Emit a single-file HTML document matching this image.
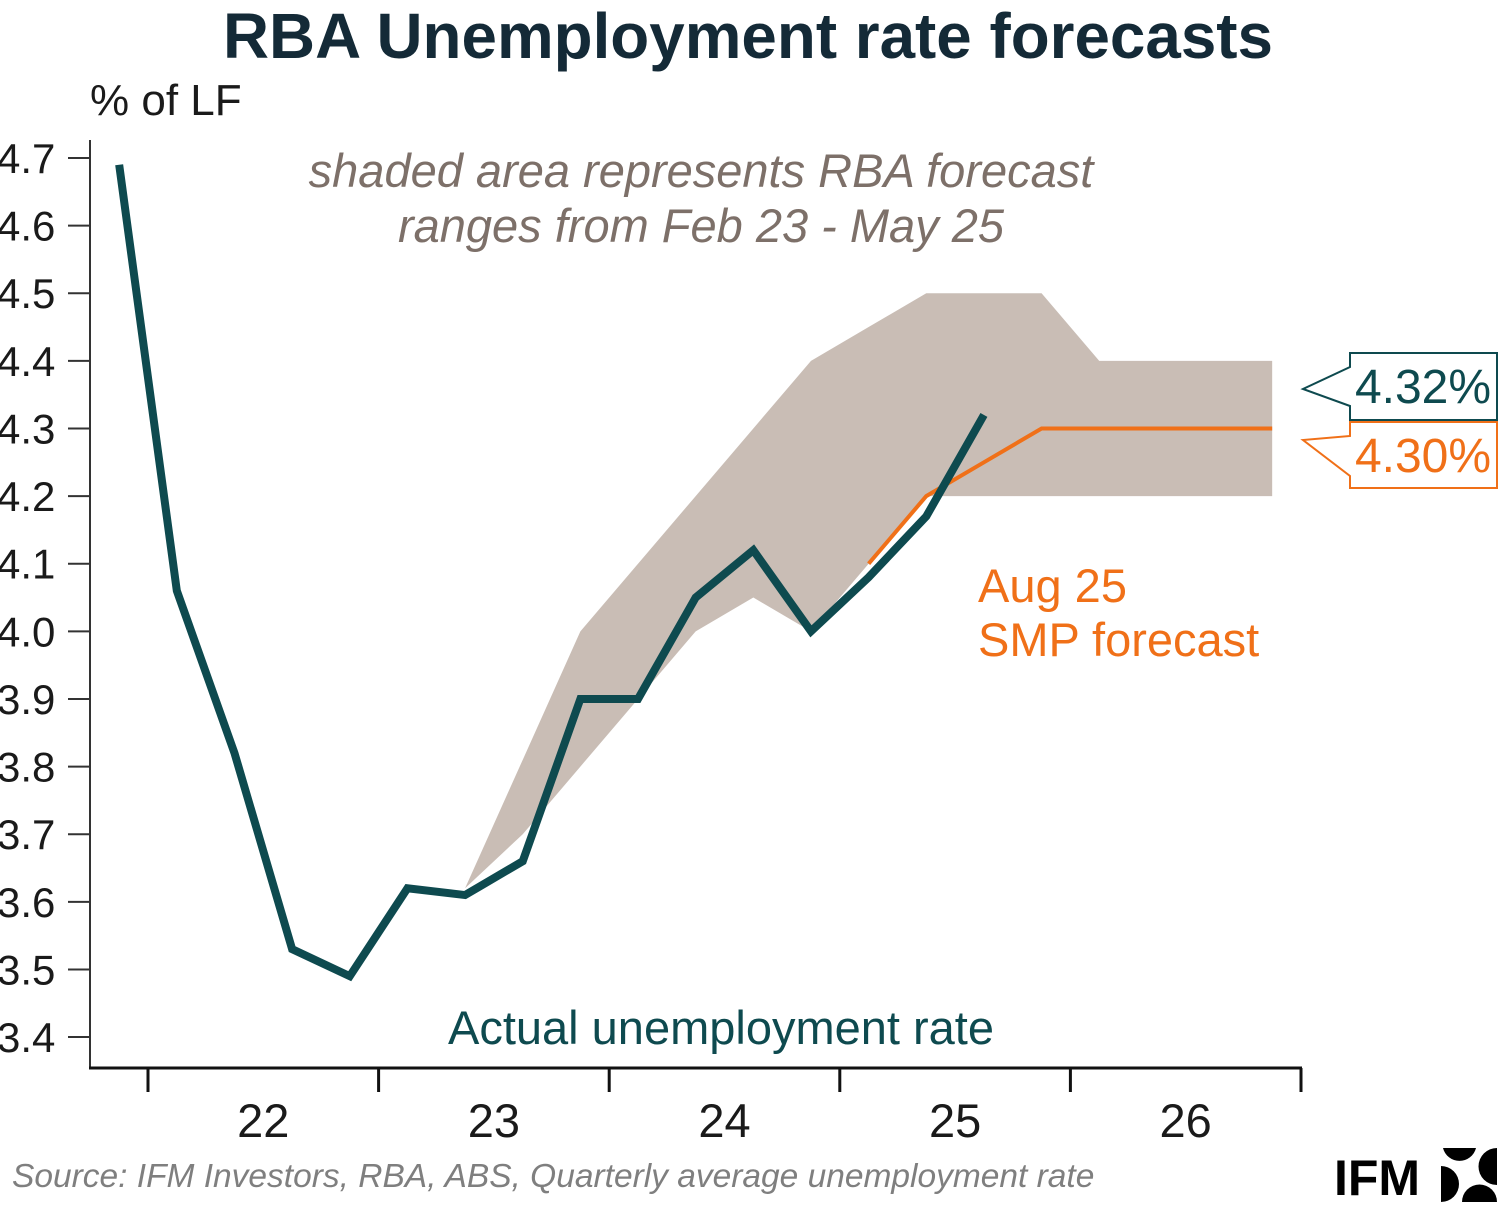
<!DOCTYPE html>
<html><head><meta charset="utf-8"><style>
html,body{margin:0;padding:0;background:#fff;width:1500px;height:1213px;overflow:hidden}
svg{display:block;font-family:"Liberation Sans",sans-serif}
</style></head><body>
<svg width="1500" height="1213" viewBox="0 0 1500 1213">
<text x="748" y="58" text-anchor="middle" font-size="64" font-weight="bold" fill="#142a37" textLength="1050" lengthAdjust="spacingAndGlyphs">RBA Unemployment rate forecasts</text>
<text x="90" y="115" font-size="44" fill="#1a1a1a">% of LF</text>
<text x="701" y="187" text-anchor="middle" font-size="47" font-style="italic" fill="#7d7069">shaded area represents RBA forecast</text>
<text x="701" y="242" text-anchor="middle" font-size="47" font-style="italic" fill="#7d7069">ranges from Feb 23 - May 25</text>
<g id="axes"></g>
<g id="plot"></g>
<text x="978" y="602" font-size="47" fill="#f07018">Aug 25</text>
<text x="978" y="656" font-size="47" fill="#f07018">SMP forecast</text>
<text x="721" y="1044" text-anchor="middle" font-size="47" fill="#0e4a4f">Actual unemployment rate</text>
<g>
<path d="M1350,353 L1497,353 L1497,420 L1350,420 L1350,406 L1303,389 L1350,367 Z" fill="#fff" stroke="#0e4a4f" stroke-width="2"/>
<text x="1423" y="403" text-anchor="middle" font-size="48" fill="#0e4a4f">4.32%</text>
</g>
<g>
<path d="M1350,422 L1497,422 L1497,488 L1350,488 L1350,476 L1303,440 L1350,436 Z" fill="#fff" stroke="#f07018" stroke-width="2"/>
<text x="1423" y="472" text-anchor="middle" font-size="48" fill="#f07018">4.30%</text>
</g>
<text x="12" y="1187" font-size="33.5" font-style="italic" fill="#7f7f7f">Source: IFM Investors, RBA, ABS, Quarterly average unemployment rate</text>
<g>
<text x="1334" y="1195" font-size="50" font-weight="bold" fill="#000">IFM</text>
<path d="M1443,1148 L1476,1148 A17,17 0 0 1 1443,1148 Z" fill="#000"/>
<path d="M1497,1148 L1497,1185 A18,18 0 0 1 1497,1148 Z" fill="#000"/>
<path d="M1441,1166 L1441,1202 A18,18 0 0 0 1441,1166 Z" fill="#000"/>
<path d="M1462,1202 L1497,1202 A17,17 0 0 0 1462,1202 Z" fill="#000"/>
</g>
</svg>
<script>
const quarters=["Q4-21","Q1-22","Q2-22","Q3-22","Q4-22","Q1-23","Q2-23","Q3-23","Q4-23","Q1-24","Q2-24","Q3-24","Q4-24","Q1-25","Q2-25","Q3-25","Q4-25","Q1-26","Q2-26","Q3-26","Q4-26"];
const actual=[4.69,4.06,3.82,3.53,3.49,3.62,3.61,3.66,3.90,3.90,4.05,4.12,4.00,4.08,4.17,4.32];
const smpQuarterStart=13;
const smpForecast=[4.10,4.20,4.25,4.30,4.30,4.30,4.30,4.30];
const bandStart=6;
const bandUpper=[3.62,3.81,4.00,4.10,4.20,4.30,4.40,4.45,4.50,4.50,4.50,4.40,4.40,4.40,4.40];
const bandLower=[3.62,3.70,3.80,3.90,4.00,4.05,4.00,4.10,4.20,4.20,4.20,4.20,4.20,4.20,4.20];
const yTicks=[3.4,3.5,3.6,3.7,3.8,3.9,4.0,4.1,4.2,4.3,4.4,4.5,4.6,4.7];
const yearLabels=["22","23","24","25","26"];
const NS="http://www.w3.org/2000/svg";
const yS=v=>158+(4.7-v)*676.2;
const Q=57.65, X0=148;
const xS=i=>X0+(i-1)*Q+Q/2;
function mk(t,a,p){const e=document.createElementNS(NS,t);for(const k in a)e.setAttribute(k,a[k]);p.appendChild(e);return e;}
const ax=document.getElementById('axes'), pl=document.getElementById('plot');
const yl=mk('line',{x1:90,y1:140,x2:90,y2:1068,stroke:'#333','stroke-width':2},ax);


const xl=mk('line',{x1:89,y1:1068,x2:1302,y2:1068,stroke:'#111','stroke-width':3},ax);


yTicks.forEach(v=>{
 const y=yS(v);
 const t=mk('line',{x1:68,y1:y,x2:90,y2:y,stroke:'#333','stroke-width':2},ax);
 
 
 const l=mk('text',{x:-3,y:y+15,'font-size':42,fill:'#1a1a1a'},ax);l.textContent=v.toFixed(1);
 
 
});
for(let k=0;k<=yearLabels.length;k++){
 const x=X0+k*4*Q;
 const t=mk('line',{x1:x,y1:1068,x2:x,y2:1092,stroke:'#111','stroke-width':3},ax);
 
 
 if(k<yearLabels.length){
  const l=mk('text',{x:x+2*Q,y:1137,'text-anchor':'middle','font-size':47,fill:'#1a1a1a'},ax);l.textContent=yearLabels[k];
  
  
 }
}
let pts=bandUpper.map((v,i)=>xS(bandStart+i)+','+yS(v));
for(let i=bandLower.length-1;i>=0;i--)pts.push(xS(bandStart+i)+','+yS(bandLower[i]));
const band=mk('polygon',{points:pts.join(' '),fill:'#c9bdb5'},pl);


const smp=mk('polyline',{points:smpForecast.map((v,i)=>xS(smpQuarterStart+i)+','+yS(v)).join(' '),fill:'none',stroke:'#f07018','stroke-width':4},pl);


const act=mk('polyline',{points:actual.map((v,i)=>xS(i)+','+yS(v)).join(' '),fill:'none',stroke:'#0e4a4f','stroke-width':8,'stroke-linejoin':'miter'},pl);


</script>
</body></html>
